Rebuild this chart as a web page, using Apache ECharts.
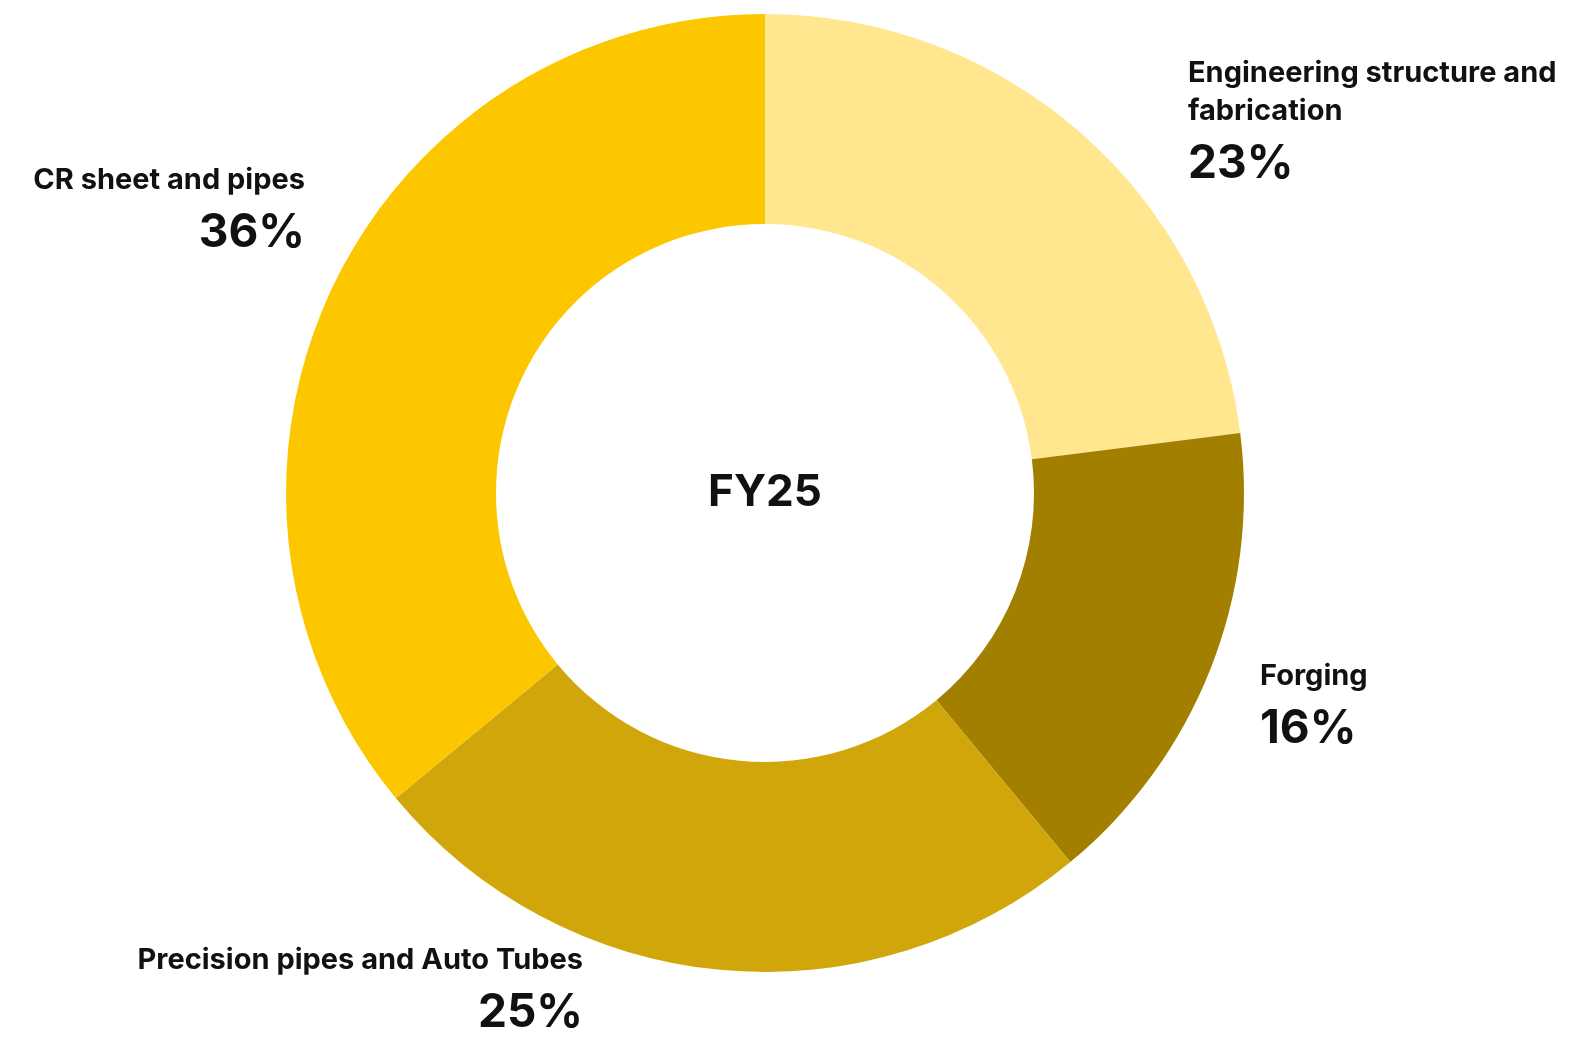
<!DOCTYPE html>
<html>
<head>
<meta charset="utf-8">
<script src="https://cdn.jsdelivr.net/npm/echarts@6/dist/echarts.min.js"></script>
<style>
html,body{margin:0;padding:0;background:#fff;}
#chart{width:1571px;height:1039px;}
</style>
</head>
<body>
<div id="chart"></div>
<script>
const categories = ['Engineering structure and fabrication', 'Forging', 'Precision pipes and Auto Tubes', 'CR sheet and pipes'];
const labelNames = ['Engineering structure and\nfabrication', 'Forging', 'Precision pipes and Auto Tubes', 'CR sheet and pipes'];
const values = [23, 16, 25, 36];
const colors = ['#FFE68F', '#A37F00', '#D1A60A', '#FDC700'];
const centerTitle = 'FY25';

// label block anchors (layout only)
const labelAnchors = [
  {x: 1188, y: 54, align: 'left'},
  {x: 1260, y: 657, align: 'left'},
  {x: 583, y: 941, align: 'right'},
  {x: 305, y: 161, align: 'right'}
];

const FONT = 'Inter, "Noto Sans", sans-serif';
const chart = echarts.init(document.getElementById('chart'));
chart.setOption({
  animation: false,
  graphic: [{
    type: 'text',
    x: 765, y: 493,
    style: {
      text: centerTitle,
      x: 0, y: 0,
      align: 'center', verticalAlign: 'middle',
      font: 'bold 44px ' + FONT,
      fill: '#111111'
    }
  }],
  series: [{
    type: 'pie',
    center: [765, 493],
    radius: [269, 479],
    startAngle: 90,
    clockwise: true,
    silent: true,
    itemStyle: {borderWidth: 0},
    labelLine: {show: false},
    label: {
      show: true,
      position: 'outside',
      formatter: function (p) {
        return '{n|' + labelNames[p.dataIndex].split('\n').join('}\n{n|') + '}\n{p|' + p.value + '%}';
      },
      rich: {
        n: {fontFamily: FONT, fontWeight: 'bold', fontSize: 29, lineHeight: 38, color: '#111111'},
        p: {fontFamily: FONT, fontWeight: 'bold', fontSize: 46, lineHeight: 68, color: '#111111'}
      }
    },
    labelLayout: function (params) {
      const a = labelAnchors[params.dataIndex];
      return {x: a.x, y: a.y, align: a.align, verticalAlign: 'top'};
    },
    data: categories.map(function (c, i) {
      return {name: c, value: values[i], itemStyle: {color: colors[i]}, label: {align: labelAnchors[i].align}};
    })
  }]
});
</script>
</body>
</html>
